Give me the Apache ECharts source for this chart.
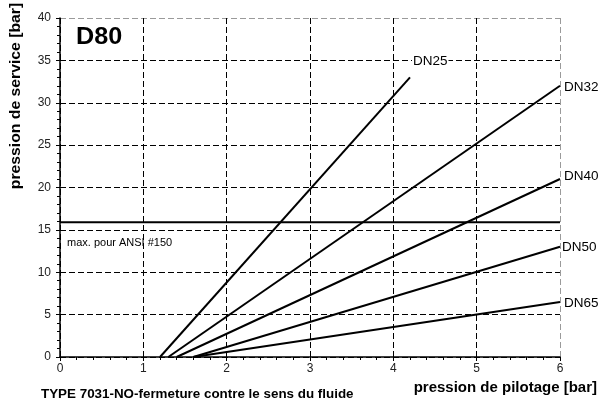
<!DOCTYPE html>
<html>
<head>
<meta charset="utf-8">
<script src="https://cdn.jsdelivr.net/npm/echarts@6/dist/echarts.min.js"></script>
<style>
  html, body { margin: 0; padding: 0; background: #fff; }
  #chart { width: 599px; height: 401px; }
</style>
</head>
<body>
<div id="chart"></div>
<script>
// Pilot pressure [bar] vs. operating pressure [bar] per nominal size
const seriesNames = ['DN25', 'DN32', 'DN40', 'DN50', 'DN65'];
const dn25 = [[1.2, 0], [4.2, 33]];
const dn32 = [[1.3, 0], [6, 32]];
const dn40 = [[1.4, 0], [6, 21]];
const dn50 = [[1.6, 0], [6, 13]];
const dn65 = [[1.6, 0], [6, 6.5]];
const ansiLimit = 15.9;
const xTicks = [0, 1, 2, 3, 4, 5, 6];
const yTicks = [0, 5, 10, 15, 20, 25, 30, 35, 40];

const FONT = 'Liberation Sans, Arial, sans-serif';
const lineData = [dn25, dn32, dn40, dn50, dn65];
const labelOffsets = [[-2, -16], [0, 1], [0, -3], [-2, 0], [0, 1]];

const chart = echarts.init(document.getElementById('chart'));

const curveSeries = lineData.map((d, i) => ({
  name: seriesNames[i],
  type: 'line',
  data: d,
  symbol: 'none',
  clip: false,
  lineStyle: { color: '#000', width: 2 },
  endLabel: {
    show: true,
    formatter: seriesNames[i],
    fontFamily: FONT,
    fontSize: 13.5,
    color: '#000',
    distance: 4,
    offset: labelOffsets[i],
    backgroundColor: i === 0 ? '#fff' : 'transparent',
    padding: i === 0 ? [0, 1] : 0
  },
  z: 3
}));

const splitColors = (ticks) => ticks.map((t, i) => i === ticks.length - 1 ? '#9a9a9a' : '#000');

chart.setOption({
  animation: false,
  grid: { left: 60, right: 39, top: 18, bottom: 44 },
  xAxis: {
    type: 'value',
    min: xTicks[0],
    max: xTicks[xTicks.length - 1],
    interval: 1,
    axisLine: { show: true, onZero: false, lineStyle: { color: '#000', width: 1.5 } },
    axisTick: { show: true, length: 4, lineStyle: { color: '#000' } },
    minorTick: { show: true, splitNumber: 5, length: 3, lineStyle: { color: '#000' } },
    axisLabel: { fontFamily: FONT, fontSize: 12, color: '#222', margin: 6 },
    splitLine: {
      show: true,
      lineStyle: { type: [6, 3], color: splitColors(xTicks), width: 1 }
    }
  },
  yAxis: {
    type: 'value',
    min: yTicks[0],
    max: yTicks[yTicks.length - 1],
    interval: 5,
    axisLine: { show: true, onZero: false, lineStyle: { color: '#000', width: 1.5 } },
    axisTick: { show: true, length: 4, lineStyle: { color: '#000' } },
    minorTick: { show: true, splitNumber: 5, length: 3, lineStyle: { color: '#000' } },
    axisLabel: { fontFamily: FONT, fontSize: 12, color: '#222', margin: 9 },
    splitLine: {
      show: true,
      lineStyle: { type: [6, 3], color: splitColors(yTicks), width: 1 }
    }
  },
  series: [
    ...curveSeries,
    {
      name: 'ANSI #150',
      type: 'line',
      data: [[0, ansiLimit], [6, ansiLimit]],
      symbol: 'none',
      clip: false,
      lineStyle: { color: '#000', width: 2 },
      z: 3
    }
  ],
  graphic: [
    {
      type: 'text',
      x: 76, y: 37,
      scaleX: 1.05,
      style: { text: 'D80', font: 'bold 24px ' + FONT, fill: '#000', textVerticalAlign: 'middle' }
    },
    {
      type: 'text',
      x: 67, y: 243,
      scaleX: 1.1,
      style: { text: 'max. pour ANSI #150', font: '10px ' + FONT, fill: '#000', textVerticalAlign: 'middle' }
    },
    {
      type: 'text',
      x: 16, y: 96,
      rotation: Math.PI / 2,
      scaleX: 1.05,
      style: {
        text: 'pression de service [bar]',
        font: 'bold 15px ' + FONT,
        fill: '#000',
        textAlign: 'center',
        textVerticalAlign: 'middle'
      }
    },
    {
      type: 'text',
      x: 597, y: 388,
      style: {
        text: 'pression de pilotage [bar]',
        font: 'bold 15px ' + FONT,
        fill: '#000',
        textAlign: 'right',
        textVerticalAlign: 'middle'
      }
    },
    {
      type: 'text',
      x: 41, y: 394.5,
      scaleX: 1.03,
      style: {
        text: 'TYPE 7031-NO-fermeture contre le sens du fluide',
        font: 'bold 13px ' + FONT,
        fill: '#000',
        textVerticalAlign: 'middle'
      }
    }
  ]
});
</script>
</body>
</html>
